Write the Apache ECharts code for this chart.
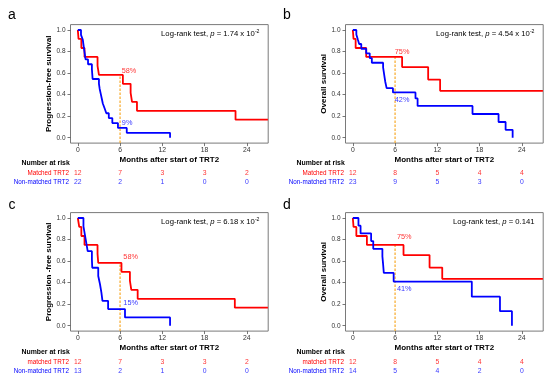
<!DOCTYPE html>
<html>
<head>
<meta charset="utf-8">
<script src="https://cdn.jsdelivr.net/npm/echarts@6/dist/echarts.min.js"></script>
<style>html,body{margin:0;padding:0;background:#fff}#c{width:550px;height:380px}</style>
</head>
<body>
<div id="c"></div>
<script>
// ---- data ----
const timeTicks = [0, 6, 12, 18, 24];
const survTicks = [0, 0.2, 0.4, 0.6, 0.8, 1.0];
const riskTimes = [0, 6, 12, 18, 24];

// panel a: progression-free survival
const aMatched = [[0,1],[0.1,0.917],[0.5,0.833],[0.95,0.75],[2.8,0.667],[3.0,0.583],[6.4,0.5],[7.5,0.417],[7.7,0.333],[8.4,0.25],[22.4,0.167],[27,0.167]];
const aNonMatched = [[0,1],[0.45,0.955],[0.71,0.909],[0.8,0.864],[0.9,0.818],[1.0,0.773],[1.1,0.727],[1.45,0.682],[2.0,0.636],[2.05,0.591],[2.1,0.545],[3.0,0.5],[3.1,0.455],[3.25,0.409],[3.4,0.364],[3.55,0.318],[3.8,0.273],[4.05,0.227],[4.4,0.182],[4.9,0.136],[5.7,0.091],[6.95,0.045],[13.1,0]];
const aRiskMatched = [12, 7, 3, 3, 2];
const aRiskNon = [22, 2, 1, 0, 0];

// panel b: overall survival
const bMatched = [[0,1],[0.1,0.917],[0.4,0.833],[1.9,0.75],[7.0,0.656],[10.7,0.54],[12.4,0.435],[27,0.435]];
const bNonMatched = [[0,1],[0.5,0.957],[0.7,0.913],[0.9,0.870],[1.2,0.826],[1.9,0.783],[2.4,0.739],[2.7,0.696],[4.3,0.652],[4.4,0.609],[4.5,0.565],[4.6,0.522],[4.8,0.46],[5.7,0.42],[8.9,0.365],[9.2,0.295],[17.0,0.22],[20.7,0.146],[21.7,0.073],[22.7,0]];
const bRiskMatched = [12, 8, 5, 4, 4];
const bRiskNon = [23, 9, 5, 3, 0];

// panel c: progression-free survival
const cMatched = [[0,1],[0.2,0.917],[0.5,0.833],[0.95,0.75],[2.8,0.667],[2.9,0.583],[6.2,0.5],[7.4,0.417],[7.6,0.333],[8.5,0.25],[22.3,0.167],[27,0.167]];
const cNonMatched = [[0,1],[0.8,0.923],[1.0,0.846],[1.2,0.769],[1.4,0.692],[2.0,0.615],[2.05,0.538],[2.9,0.462],[3.15,0.385],[3.35,0.308],[3.5,0.231],[4.3,0.154],[6.7,0.077],[13.1,0]];
const cRiskMatched = [12, 7, 3, 3, 2];
const cRiskNon = [13, 2, 1, 0, 0];

// panel d: overall survival
const dMatched = [[0,1],[0.1,0.917],[0.5,0.833],[2.0,0.75],[7.2,0.656],[10.9,0.54],[12.7,0.435],[27,0.435]];
const dNonMatched = [[0,1],[0.8,0.929],[1.1,0.857],[2.6,0.786],[2.9,0.714],[4.2,0.643],[4.3,0.571],[4.4,0.49],[5.8,0.41],[16.9,0.27],[20.9,0.135],[22.6,0]];
const dRiskMatched = [12, 8, 5, 4, 4];
const dRiskNon = [14, 5, 4, 2, 0];

// 6-month survival of matched group (dashed reference line) and percent labels
const sixMonth = [0.583, 0.75, 0.583, 0.75];
const redPct = ['58%', '75%', '58%', '75%'];
const bluePct = ['9%', '42%', '15%', '41%'];
const redPctAt = [[7.27, 0.622], [7.0, 0.793], [7.5, 0.64], [7.3, 0.826]];
const bluePctAt = [[7.0, 0.134], [7.0, 0.35], [7.5, 0.214], [7.3, 0.344]];
const pValues = ['1.74 x 10', '4.54 x 10', '6.18 x 10', '0.141'];
const pExps = ['-2', '-2', '-2', ''];
const letters = ['a', 'b', 'c', 'd'];
const yTitles = ['Progression-free survival', 'Overall survival', 'Progression -free survival', 'Overall survival'];
const groupNames = [['Matched TRT2','Non-matched TRT2'],['Matched TRT2','Non-matched TRT2'],['matched TRT2','Non-matched TRT2'],['matched TRT2','Non-matched TRT2']];
const xTitle = 'Months after start of TRT2';

// ---- layout ----
const FONT = 'Liberation Sans, Arial, sans-serif';
const RED = '#ff0000', BLUE = '#0000ff', ORANGE = '#f7a928';
const X_MIN = -1.04, X_MAX = 27.04, Y_MIN = -0.05, Y_MAX = 1.05;
const panels = [
  {ox: 0, oy: 0, ty: 0, m: aMatched, n: aNonMatched, rm: aRiskMatched, rn: aRiskNon},
  {ox: 275, oy: 0, ty: 0, m: bMatched, n: bNonMatched, rm: bRiskMatched, rn: bRiskNon},
  {ox: 0, oy: 188, ty: 189, m: cMatched, n: cNonMatched, rm: cRiskMatched, rn: cRiskNon},
  {ox: 275, oy: 188, ty: 189, m: dMatched, n: dNonMatched, rm: dRiskMatched, rn: dRiskNon}
];

const grid = [], xAxis = [], yAxis = [], series = [], graphic = [];
panels.forEach((p, i) => {
  grid.push({left: p.ox + 70.5, top: p.oy + 24.6, width: 197.7, height: 118.5,
    show: true, borderColor: '#7a7a7a', borderWidth: 1, backgroundColor: 'transparent', outerBoundsMode: 'none'});
  xAxis.push({type: 'value', gridIndex: i, min: X_MIN, max: X_MAX,
    axisLine: {show: false, onZero: false}, splitLine: {show: false},
    axisTick: {show: true, length: 3, customValues: timeTicks, lineStyle: {color: '#555', width: 0.8}},
    axisLabel: {customValues: timeTicks, fontSize: 6.8, color: '#333', margin: 4, fontFamily: FONT},
    name: xTitle, nameLocation: 'middle', nameGap: 13,
    nameTextStyle: {fontSize: 8, fontWeight: 'bold', color: '#000', fontFamily: FONT}});
  yAxis.push({type: 'value', gridIndex: i, min: Y_MIN, max: Y_MAX,
    axisLine: {show: false, onZero: false}, splitLine: {show: false},
    axisTick: {show: true, length: 3, customValues: survTicks, lineStyle: {color: '#555', width: 0.8}},
    axisLabel: {customValues: survTicks, fontSize: 6.5, color: '#333', margin: 5, fontFamily: FONT,
      formatter: v => Number(v).toFixed(1)},
    name: yTitles[i], nameLocation: 'middle', nameGap: 18,
    nameTextStyle: {fontSize: 8, fontWeight: 'bold', color: '#000', fontFamily: FONT}});
});
// risk table grids
panels.forEach((p, i) => {
  const gi = 4 + i;
  grid.push({left: p.ox + 70.5, top: p.ty + 169, height: 17.4, width: 197.7, show: false, outerBoundsMode: 'none'});
  xAxis.push({type: 'value', gridIndex: gi, min: X_MIN, max: X_MAX, show: false});
  yAxis.push({type: 'category', gridIndex: gi, data: groupNames[i], inverse: true,
    axisLine: {show: false}, axisTick: {show: false}, splitLine: {show: false},
    axisLabel: {margin: 1.5, fontSize: 6.3, fontFamily: FONT,
      formatter: (v, idx) => (idx === 0 ? '{r|' : '{b|') + v + '}',
      rich: {r: {color: RED, fontSize: 6.3, fontFamily: FONT}, b: {color: BLUE, fontSize: 6.3, fontFamily: FONT}}}});
});

panels.forEach((p, i) => {
  const base = {xAxisIndex: i, yAxisIndex: i, animation: false, silent: true};
  series.push(Object.assign({type: 'line', data: [[6, Y_MIN], [6, sixMonth[i]]], showSymbol: false,
    lineStyle: {color: ORANGE, width: 1.2, type: [2.5, 1.5]}, z: 1}, base));
  series.push(Object.assign({type: 'line', step: 'end', data: p.m, showSymbol: false,
    lineStyle: {color: RED, width: 1.8}, z: 3}, base));
  series.push(Object.assign({type: 'line', step: 'end', data: p.n, showSymbol: false,
    lineStyle: {color: BLUE, width: 1.8}, z: 4}, base));
  series.push(Object.assign({type: 'scatter', data: [redPctAt[i]], symbolSize: 1, itemStyle: {color: 'transparent'},
    label: {show: true, position: 'inside', formatter: () => redPct[i], color: RED, fontSize: 7.3, fontFamily: FONT}, z: 5}, base));
  series.push(Object.assign({type: 'scatter', data: [bluePctAt[i]], symbolSize: 1, itemStyle: {color: 'transparent'},
    label: {show: true, position: 'inside', formatter: () => bluePct[i], color: BLUE, fontSize: 7.3, fontFamily: FONT}, z: 5}, base));
  const gi = 4 + i;
  series.push({type: 'scatter', xAxisIndex: gi, yAxisIndex: gi, animation: false, silent: true,
    data: riskTimes.map((t, j) => [t, 0, p.rm[j]]), symbolSize: 1, itemStyle: {color: 'transparent'},
    label: {show: true, position: 'inside', formatter: q => q.value[2], color: RED, fontSize: 6.8, fontFamily: FONT}});
  series.push({type: 'scatter', xAxisIndex: gi, yAxisIndex: gi, animation: false, silent: true,
    data: riskTimes.map((t, j) => [t, 1, p.rn[j]]), symbolSize: 1, itemStyle: {color: 'transparent'},
    label: {show: true, position: 'inside', formatter: q => q.value[2], color: BLUE, fontSize: 6.8, fontFamily: FONT}});

  // texts
  graphic.push({type: 'text', x: p.ox + 12, y: p.oy + (i < 2 ? 15 : 17),
    style: {text: letters[i], font: '14px ' + FONT, fill: '#000', textAlign: 'center', textVerticalAlign: 'middle'}});
  graphic.push({type: 'text', x: p.ox + 21.5, y: p.ty + 163.5,
    style: {text: 'Number at risk', font: 'bold 6.9px ' + FONT, fill: '#000', textAlign: 'left', textVerticalAlign: 'middle'}});
  const lr = '{n|Log-rank test, }{i|p}{n| = ' + pValues[i] + '}' + (pExps[i] ? '{s|' + pExps[i] + '}' : '');
  graphic.push({type: 'text', x: p.ox + 259.5, y: p.oy + 34,
    style: {text: lr, textAlign: 'right', textVerticalAlign: 'middle', fill: '#000',
      rich: {n: {fontSize: 7.7, fontFamily: FONT, lineHeight: 10, fill: '#000'},
             i: {fontSize: 7.7, fontFamily: FONT, fontStyle: 'italic', lineHeight: 10, fill: '#000'},
             s: {fontSize: 5.2, fontFamily: FONT, lineHeight: 6, verticalAlign: 'top', fill: '#000'}}}});
});

const chart = echarts.init(document.getElementById('c'), null, {renderer: 'canvas'});
chart.setOption({animation: false, backgroundColor: '#fff', grid, xAxis, yAxis, series, graphic});
</script>
</body>
</html>
